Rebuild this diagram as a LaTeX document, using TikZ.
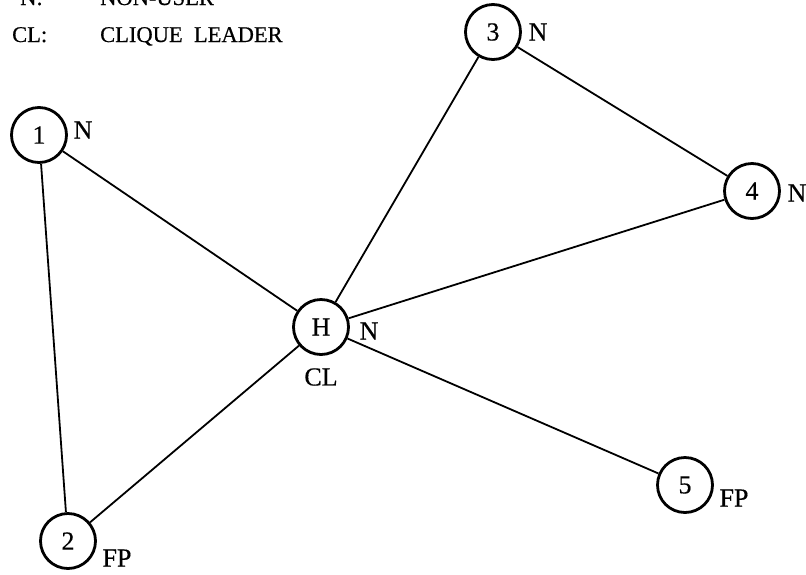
\documentclass[tikz,border=0pt]{standalone}
\usepackage{fontspec}
\setmainfont{Liberation Serif}
\newfontfamily\inkfont{Liberation Serif}[FakeBold=0.5]
\begin{document}
\begin{tikzpicture}[x=1pt,y=-1pt,
  person/.style={circle,draw,line width=2.8pt,minimum size=55pt,inner sep=0pt,
    font=\inkfont\fontsize{26}{30}\selectfont},
  tag/.style={inner sep=0pt,font=\inkfont\fontsize{26}{30}\selectfont},
  legend/.style={inner sep=0pt,anchor=base west,font=\inkfont\fontsize{22.5}{26}\selectfont},
  tie/.style={line width=1.8pt}]
\useasboundingbox (0,0) rectangle (806,574);

% legend
\node[legend] (kN) at (20,5) {N:};
\node[legend] (tN) at (100,5) {NON-USER};
\node[legend] (kCL) at (12,42) {CL:};
\node[legend] (tCL) at (100,42) {CLIQUE\ \ LEADER};

% people
\node[person] (p1) at (39,135) {1};
\node[person] (p2) at (68,541) {2};
\node[person] (p3) at (493,32) {3};
\node[person] (p4) at (752,191) {4};
\node[person] (pH) at (321,327) {H};
\node[person] (p5) at (685,485) {5};

% status tags
\node[tag] (s1) at (83,130) {N};
\node[tag] (s2) at (117,558) {FP};
\node[tag] (s3) at (538,32) {N};
\node[tag] (s4) at (797,193) {N};
\node[tag] (sH) at (369,331) {N};
\node[tag] (cH) at (321,377) {CL};
\node[tag] (s5) at (734,498) {FP};

% ties
\draw[tie] (p1) -- (p2);
\draw[tie] (p1) -- (pH);
\draw[tie] (p2) -- (pH);
\draw[tie] (pH) -- (p3);
\draw[tie] (pH) -- (p4);
\draw[tie] (p3) -- (p4);
\draw[tie] (pH) -- (p5);
\end{tikzpicture}
\end{document}
